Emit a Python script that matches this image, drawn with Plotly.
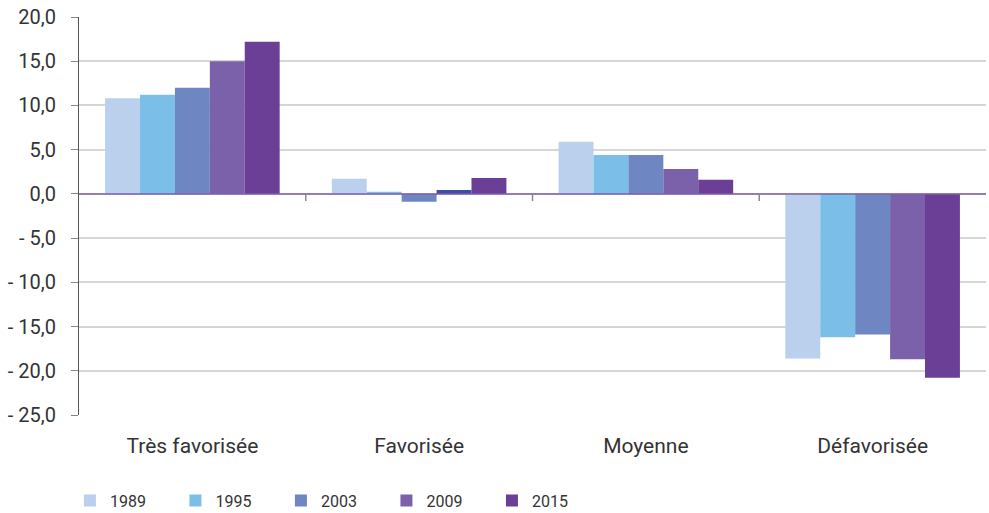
import plotly.graph_objects as go

categories = ["Très favorisée", "Favorisée", "Moyenne", "Défavorisée"]
years = ["1989", "1995", "2003", "2009", "2015"]
v1989 = [10.8, 1.7, 5.9, -18.6]
v1995 = [11.2, 0.25, 4.4, -16.2]
v2003 = [12.0, -0.9, 4.4, -15.9]
v2009 = [15.0, 0.45, 2.8, -18.7]
v2015 = [17.2, 1.8, 1.6, -20.8]
series = [v1989, v1995, v2003, v2009, v2015]
colors = ["#BAD0EC", "#7BBFE8", "#6E86C1", "#7A61AA", "#6B3F96"]
# the original chart shows the 2009 "Favorisée" bar in a darker blue
bar_colors_2009 = ["#7A61AA", "#3F4FA0", "#7A61AA", "#7A61AA"]

yticks = [20, 15, 10, 5, 0, -5, -10, -15, -20, -25]
yticktext = ["20,0", "15,0", "10,0", "5,0", "0,0", "- 5,0", "- 10,0", "- 15,0", "- 20,0", "- 25,0"]

font = "Roboto, Arial, sans-serif"
fig = go.Figure()
for yr, vals, col in zip(years, series, colors):
    mc = bar_colors_2009 if yr == "2009" else col
    fig.add_trace(go.Bar(x=categories, y=vals, name=yr, marker=dict(color=mc, line=dict(width=0))))

fig.update_layout(
    width=989, height=513,
    margin=dict(l=79, r=3, t=17, b=98, autoexpand=False),
    barmode="group", bargap=0.23, bargroupgap=0,
    plot_bgcolor="white", paper_bgcolor="white",
    font=dict(family=font, size=16, color="#333333"),
    showlegend=True,
    legend=dict(orientation="h", x=-0.01, xanchor="left", y=-0.215, yanchor="middle",
                entrywidth=60.5, entrywidthmode="pixels", font=dict(size=16, color="#333333"),
                traceorder="normal"),
)
fig.update_xaxes(showgrid=False, showline=False, ticks="", ticklabelstandoff=16,
                 automargin=False, tickfont=dict(size=21, color="#333333"))
fig.update_yaxes(range=[-25, 20], tickvals=yticks, ticktext=yticktext, automargin=False,
                 showgrid=True, gridcolor="#D6D6D6", gridwidth=2,
                 zeroline=False, showline=True, linecolor="#555555", linewidth=1,
                 ticks="outside", ticklen=7, tickcolor="#888888", ticklabelstandoff=11,
                 tickfont=dict(size=20, color="#333333"))

# zero line drawn above bars
fig.add_shape(type="line", xref="paper", yref="y", x0=0, x1=1, y0=0, y1=0,
              line=dict(color="#7B5FB0", width=1.5), layer="above")
# category separator ticks on the zero line
for k in range(1, len(categories)):
    fig.add_shape(type="line", xref="x", yref="y", x0=k - 0.5, x1=k - 0.5, y0=0, y1=-0.8,
                  line=dict(color="#888888", width=1.5), layer="above")

fig.write_html("out.html", config={"displayModeBar": False},
               post_script="document.body.style.margin='0px';document.body.style.overflow='hidden';")
